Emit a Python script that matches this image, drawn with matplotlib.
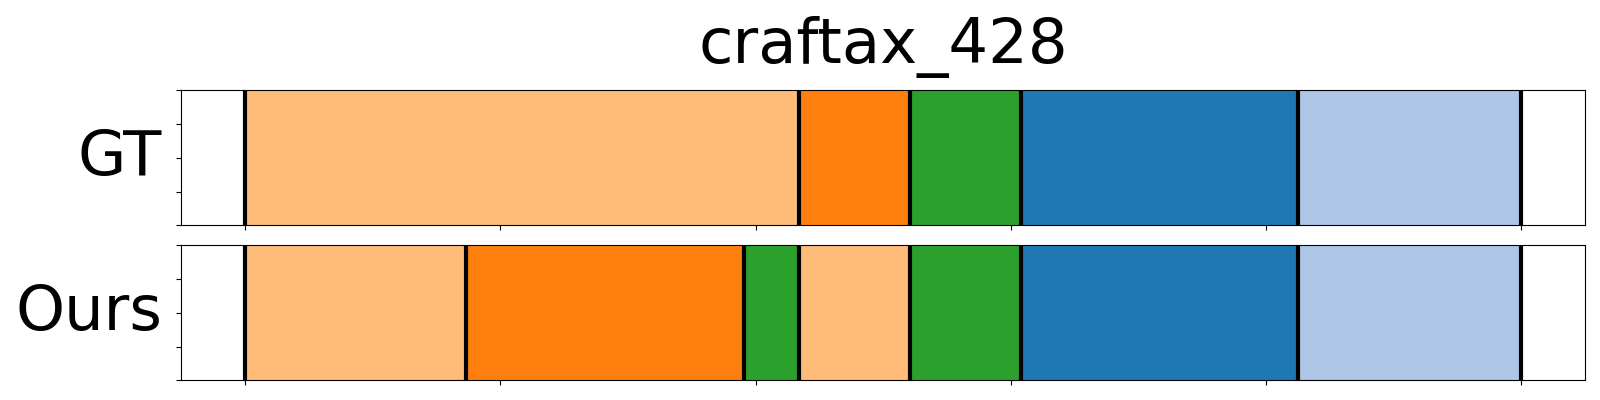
import matplotlib
matplotlib.use("Agg")
import matplotlib.pyplot as plt

# segment boundaries (frames) and colour index into tab20
gt_bounds = [0, 108.5, 130.3, 152.0, 206.3, 250]
gt_labels = [3, 2, 4, 0, 1]
ours_bounds = [0, 43.3, 97.7, 108.5, 130.3, 152.0, 206.3, 250]
ours_labels = [3, 2, 4, 3, 4, 0, 1]
row_names = ["GT", "Ours"]
title = "craftax_428"

cmap = plt.get_cmap("tab20")

fig, axes = plt.subplots(2, 1, figsize=(16, 4), dpi=100, sharex=True)
fig.subplots_adjust(left=0.1133, right=0.9908, top=0.774, bottom=0.049, hspace=0.148)

for ax, bounds, labels, name in zip(axes, [gt_bounds, ours_bounds],
                                    [gt_labels, ours_labels], row_names):
    for i, lab in enumerate(labels):
        ax.axvspan(bounds[i], bounds[i + 1], color=cmap(lab))
    for b in bounds:
        ax.axvline(b, color="black", linewidth=3)
    ax.set_xlim(-12.5, 262.5)
    ax.set_ylim(0, 1)
    ax.set_yticks([0, 0.25, 0.5, 0.75, 1])
    ax.set_yticklabels([])
    ax.set_xticks([0, 50, 100, 150, 200, 250])
    ax.set_xticklabels([])
    ax.set_ylabel(name, fontsize=45, rotation=0, ha="right", va="center")
    ax.yaxis.set_label_coords(-0.0135, 0.5)

axes[0].set_title(title, fontsize=45, pad=20)

fig.savefig("out.png")
